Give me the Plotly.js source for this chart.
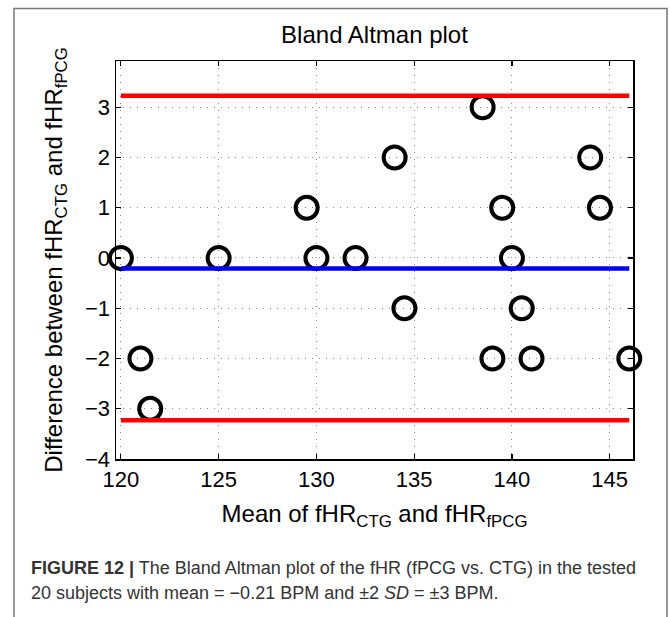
<!DOCTYPE html>
<html>
<head>
<meta charset="utf-8">
<script src="https://cdn.plot.ly/plotly-3.0.1.min.js"></script>
<style>
  html, body { margin: 0; padding: 0; background: #ffffff; }
  #chart { width: 669px; height: 617px; }
</style>
</head>
<body>
<div id="chart"></div>
<script>
// ---- data ----
const meanVals = [120, 121, 121.5, 125, 129.5, 130, 132, 134, 134.5, 138.5, 139, 139.5, 140, 140.5, 141, 144, 144.5, 146];
const diffVals = [0, -2, -3, 0, 1, 0, 0, 2, -1, 3, -2, 1, 0, -1, -2, 2, 1, -2];
const meanDiff = -0.21;
const upperLimit = 3.23;
const lowerLimit = -3.23;
const lineSpan = [120, 146];
const xTicks = [120, 125, 130, 135, 140, 145];
const yTicks = [-4, -3, -2, -1, 0, 1, 2, 3];

// ---- layout geometry (pixels) ----
const W = 669, H = 617;
const L = 116, R = 633, T = 61, B = 459;
const pw = R - L, ph = B - T;
const px = v => (v - L) / pw;
const py = v => (B - v) / ph;

const font = 'Liberation Sans, Arial, Helvetica, sans-serif';

const traces = [
  {
    x: meanVals, y: diffVals, type: 'scatter', mode: 'markers',
    cliponaxis: false,
    marker: { symbol: 'circle-open', size: 22, color: '#000000', line: { width: 4, color: '#000000' } },
    hoverinfo: 'x+y', showlegend: false
  },
  {
    x: lineSpan, y: [upperLimit, upperLimit], type: 'scatter', mode: 'lines',
    line: { color: '#ff0000', width: 4.5 }, showlegend: false
  },
  {
    x: lineSpan, y: [meanDiff, meanDiff], type: 'scatter', mode: 'lines',
    line: { color: '#0000ff', width: 4.5 }, showlegend: false
  },
  {
    x: lineSpan, y: [lowerLimit, lowerLimit], type: 'scatter', mode: 'lines',
    line: { color: '#ff0000', width: 4.5 }, showlegend: false
  }
];

const axisCommon = {
  showline: true, linecolor: '#000000', linewidth: 1.5, mirror: 'ticks',
  ticks: 'inside', ticklen: 5, tickwidth: 1.2, tickcolor: '#000000',
  showgrid: true, gridcolor: '#888888', gridwidth: 1, griddash: '1px,6px',
  zeroline: false,
  tickfont: { family: font, size: 22, color: '#000000' }
};

const layout = {
  width: W, height: H,
  margin: { l: L, r: W - R, t: T, b: H - B, pad: 0 },
  paper_bgcolor: '#ffffff', plot_bgcolor: '#ffffff',
  font: { family: font, color: '#000000' },
  title: {
    text: 'Bland Altman plot',
    font: { family: font, size: 24, color: '#000000' },
    x: 0.5 * (L + R) / W, xanchor: 'center',
    y: 1 - 35 / H, yanchor: 'middle'
  },
  xaxis: Object.assign({}, axisCommon, {
    range: [119.75, 146.19],
    tickvals: xTicks,
    title: { text: 'Mean of fHR<sub>CTG</sub> and fHR<sub>fPCG</sub>', font: { family: font, size: 24, color: '#000000' }, standoff: 14 }
  }),
  yaxis: Object.assign({}, axisCommon, {
    range: [-4, 3.92],
    tickvals: yTicks,
    title: { text: 'Difference between fHR<sub>CTG</sub> and fHR<sub>fPCG</sub>', font: { family: font, size: 24, color: '#000000' }, standoff: 15 }
  }),
  shapes: [
    {
      type: 'rect', xref: 'paper', yref: 'paper', layer: 'below',
      x0: px(14), x1: px(667), y0: py(640), y1: py(8.5),
      line: { color: '#777777', width: 1.5 }, fillcolor: 'rgba(0,0,0,0)'
    }
  ],
  annotations: [
    {
      xref: 'paper', yref: 'paper', x: px(29), y: py(568), xanchor: 'left', yanchor: 'middle',
      align: 'left', showarrow: false,
      text: '<b>FIGURE 12 |</b> The Bland Altman plot of the fHR (fPCG vs. CTG) in the tested',
      font: { family: font, size: 18, color: '#333333' }
    },
    {
      xref: 'paper', yref: 'paper', x: px(29), y: py(593), xanchor: 'left', yanchor: 'middle',
      align: 'left', showarrow: false,
      text: '20 subjects with mean = −0.21 BPM and ±2 <i>SD</i> = ±3 BPM.',
      font: { family: font, size: 18, color: '#333333' }
    }
  ]
};

Plotly.newPlot('chart', traces, layout, { displayModeBar: false, staticPlot: true });
</script>
</body>
</html>
